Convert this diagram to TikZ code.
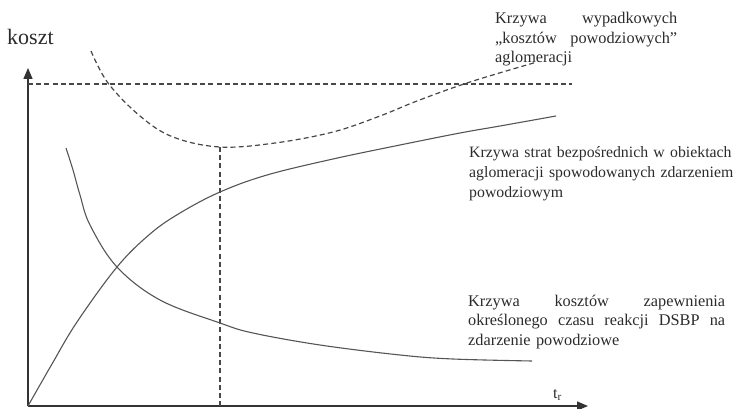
\documentclass[tikz,border=0pt]{standalone}
\usepackage{fontspec}
\setmainfont{Liberation Serif}
\usetikzlibrary{arrows.meta}
\hyphenpenalty=10000
\exhyphenpenalty=10000
\definecolor{txt}{HTML}{2B2B2B}
\definecolor{crv}{HTML}{555555}
\definecolor{axc}{HTML}{333333}
\tikzset{
  axisline/.style={draw=axc, line width=1.4pt, -{Triangle[length=11pt,width=9pt]}},
  dashline/.style={draw=axc!90, line width=1.2pt, dash pattern=on 5pt off 3.2pt},
  curveline/.style={draw=crv, line width=1.1pt},
  lbl/.style={text=txt, inner sep=0pt, font=\fontsize{16.3}{19.5}\selectfont, anchor=base west, align=left},
}
\begin{document}
\begin{tikzpicture}[x=1pt,y=-1pt]
\useasboundingbox (0,0) rectangle (737,409);
% axes
\coordinate (O) at (28,406);
\coordinate (Ytop) at (28,68);
\coordinate (Xend) at (588,406);
\draw[axisline] (O) -- (Ytop);
\draw[axisline] (O) -- (Xend);
% horizontal dashed level
\coordinate (H0) at (28,84);
\coordinate (H1) at (572,84);
\draw[dashline] (H0) -- (H1);
% vertical dashed at optimum
\coordinate (V0) at (220,147);
\coordinate (V1) at (220,406);
\draw[dashline] (V0) -- (V1);
% resulting cost curve (dashed)
\draw[dashline] plot[smooth, tension=0.6] coordinates {(91,51) (108,83) (140,116) (173,137) (220,147) (275,143) (333,132) (380,116) (417,101) (470,82) (537,62)};
% direct losses curve (increasing)
\draw[curveline] plot[smooth, tension=0.6] coordinates {(28,406) (52,364) (77,322) (117,267) (150,234) (180,213) (220,192) (267,175) (333,159) (400,145) (460,133) (500,126) (556,116)};
% response time cost curve (decreasing)
\draw[curveline] plot[smooth, tension=0.6] coordinates {(66,148) (73,170) (80,195) (90,225) (117,267) (160,300) (220,323) (253,333) (320,345) (400,355) (453,359) (532,361)};
% labels
\node[lbl, font=\fontsize{22}{26}\selectfont] (koszt) at (7,45) {koszt};
\node[lbl, font=\fontsize{16}{19}\selectfont] (tr) at (553,398) {t\textsubscript{r}};
\node[lbl, text width=182pt] (lw) at (495,24) {Krzywa\hfill wypadkowych\\„kosztów\hfill powodziowych”\\aglomeracji};
\node[lbl, text width=300pt, font=\fontsize{15.8}{19.8}\selectfont] (ls) at (469,158) {Krzywa strat bezpośrednich w obiektach\\aglomeracji spowodowanych zdarzeniem\\powodziowym};
\node[lbl, text width=257pt] (lk) at (468,306) {Krzywa\hfill kosztów\hfill zapewnienia\\określonego\hfill czasu\hfill reakcji\hfill DSBP\hfill na\\zdarzenie powodziowe};
\end{tikzpicture}
\end{document}
